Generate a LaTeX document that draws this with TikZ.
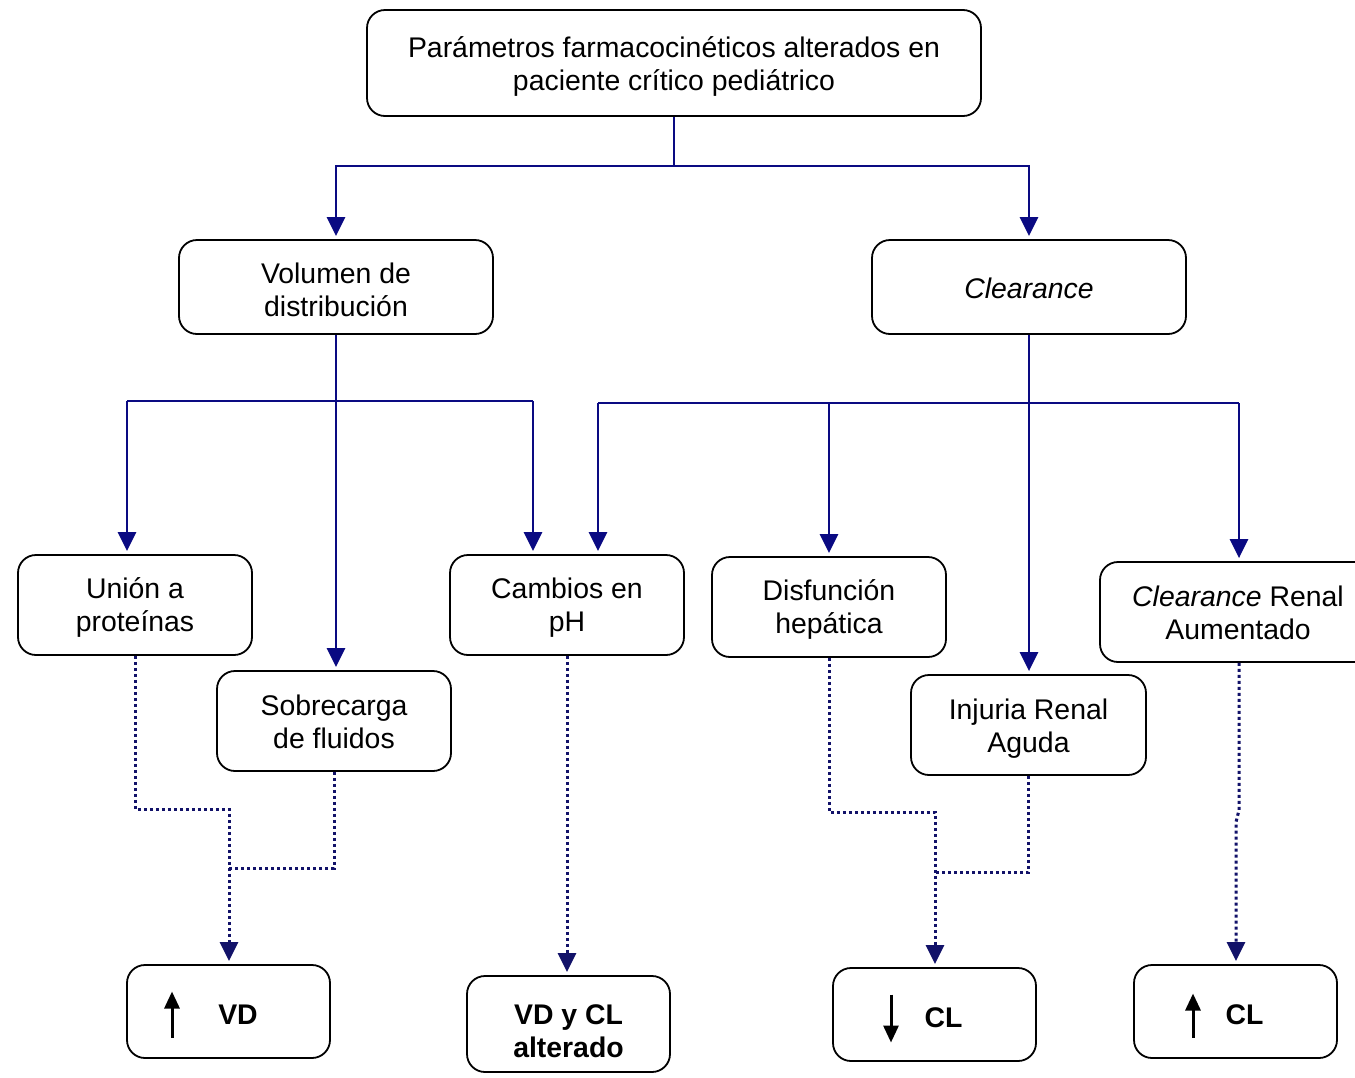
\documentclass[tikz,border=0pt]{standalone}
\usepackage{fontspec}
\setmainfont{Liberation Sans}
\usetikzlibrary{arrows.meta}
\definecolor{navyc}{RGB}{10,10,130}
\definecolor{dotnavy}{RGB}{18,18,105}
\begin{document}
\begin{tikzpicture}[x=1pt,y=-1pt,
  box/.style={draw, line width=1.8pt, rounded corners=18pt, align=center, inner sep=0pt,
    font=\fontsize{28.4}{33}\selectfont, fill=white, text depth=7pt},
  two/.style={text height=60pt},
  mid/.style={box, two, minimum width=234pt, minimum height=100pt},
  res/.style={box, text height=32pt, minimum width=203pt, minimum height=93pt},
  conn/.style={draw=navyc, line width=2.8pt},
  arr/.style={-{Triangle[length=19pt,width=18pt]}, shorten >=3pt},
  dotc/.style={draw=dotnavy, line width=3pt, dash pattern=on 3pt off 3pt},
  updown/.style={draw=black, line width=3pt, -{Triangle[length=17pt,width=15pt]}}]
\clip (0,0) rectangle (1355,1077);
\fill[white] (0,0) rectangle (1355,1077);

% nodes
\node[box, text height=61pt, minimum width=614pt, minimum height=106pt] (top) at (674,63)
  {Parámetros farmacocinéticos alterados en\\paciente crítico pediátrico};
\node[box, text height=65pt, minimum width=314pt, minimum height=94pt] (vd) at (336,287) {Volumen de\\distribución};
\node[box, text height=29pt, minimum width=314pt, minimum height=94pt] (cl) at (1029,287) {\textit{Clearance}};
\node[mid] (union) at (135,605) {Unión a\\proteínas};
\node[mid, text height=61pt] (sobre) at (334,721) {Sobrecarga\\de fluidos};
\node[mid] (ph) at (567,605) {Cambios en\\pH};
\node[mid] (hep) at (829,607) {Disfunción\\hepática};
\node[mid, text height=61pt, minimum width=235pt] (ira) at (1028.5,725) {Injuria Renal\\Aguda};
\node[mid, text height=62pt, minimum width=276pt] (clr) at (1238,612) {\textit{Clearance} Renal\\Aumentado};
\node[res] (bvd) at (228.5,1011.5) {\hspace*{19pt}\textbf{VD}};
\node[res, text height=73pt, minimum height=96pt] (bvdcl) at (568.5,1024) {\textbf{VD y CL}\\\textbf{alterado}};
\node[res] (bcl1) at (934.5,1014.5) {\hspace*{18pt}\textbf{CL}};
\node[res] (bcl2) at (1235.5,1011.5) {\hspace*{18pt}\textbf{CL}};

% arrows inside result boxes
\draw[updown] ([shift={(-56.5,26)}]bvd.center) -- ([shift={(-56.5,-20)}]bvd.center);
\draw[updown] ([shift={(-43.5,-20)}]bcl1.center) -- ([shift={(-43.5,28)}]bcl1.center);
\draw[updown] ([shift={(-42.5,26)}]bcl2.center) -- ([shift={(-42.5,-18)}]bcl2.center);

% solid connectors
\coordinate (t1) at (674,166);
\draw[conn] (top.south) -- (t1);
\draw[conn,arr] (t1) -| (vd.north);
\draw[conn,arr] (t1) -| (cl.north);

\coordinate (v1) at (127,401);
\coordinate (v2) at (533,401);
\draw[conn,arr] (vd.south) -- (vd.south |- sobre.north);
\draw[conn] (v1) -- (v2);
\draw[conn,arr] (v1) -- (v1 |- union.north);
\draw[conn,arr] (v2) -- (v2 |- ph.north);

\coordinate (c1) at (598,403);
\coordinate (c2) at (1239,403);
\coordinate (c3) at (829,403);
\draw[conn,arr] (cl.south) -- (cl.south |- ira.north);
\draw[conn] (c1) -- (c2);
\draw[conn,arr] (c1) -- (c1 |- ph.north);
\draw[conn,arr] (c3) -- (c3 |- hep.north);
\draw[conn,arr] (c2) -- (c2 |- clr.north);

% dotted connectors
\coordinate (j1) at (229,809);
\coordinate (j2) at (935,812);
\draw[dotc,arr] (union.south) |- (j1) -- (j1 |- bvd.north);
\draw[dotc] (sobre.south) |- (229,868);
\draw[dotc,arr] (ph.south) -- (ph.south |- bvdcl.north);
\draw[dotc,arr] (hep.south) |- (j2) -- (j2 |- bcl1.north);
\draw[dotc] (ira.south) |- (935,872);
\coordinate (r1) at (1239,810);
\coordinate (r2) at (1236,822);
\draw[dotc,arr] (r1 |- clr.south) -- (r1) -- (r2) -- (r2 |- bcl2.north);
\end{tikzpicture}
\end{document}
